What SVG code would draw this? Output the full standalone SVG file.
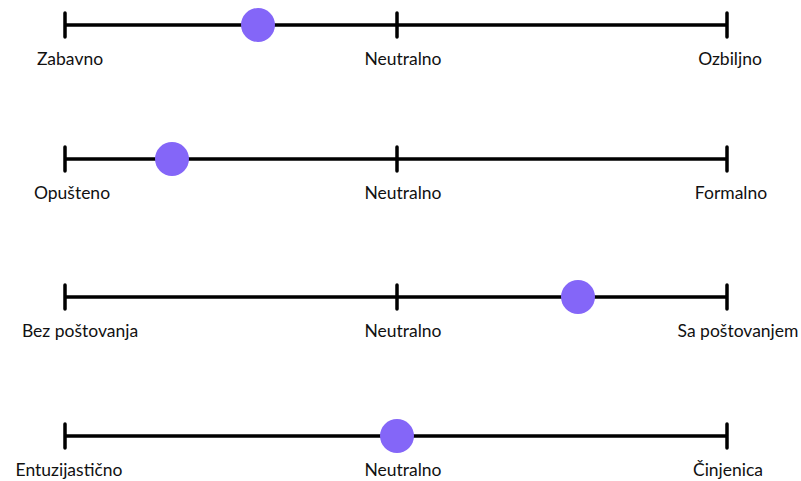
<svg xmlns="http://www.w3.org/2000/svg" width="801" height="481" viewBox="0 0 801 481">
<style>
.ln{stroke:#000;stroke-width:3.5;stroke-linecap:round;fill:none}
.dot{fill:#8466f8}
text{font-family:Lato,"Liberation Sans",sans-serif;font-size:17.5px;fill:#111;text-anchor:middle}
</style>
<rect width="801" height="481" fill="#fff"/>
<g id="scale1">
<path class="ln" d="M65 25H727M65 13V37M397 13V37M727 13V37"/>
<circle class="dot" cx="258" cy="25" r="17"/>
<text x="70" y="65">Zabavno</text>
<text x="403" y="65">Neutralno</text>
<text x="730" y="65">Ozbiljno</text>
</g>
<g id="scale2">
<path class="ln" d="M65 159H727M65 147V171M397 147V171M727 147V171"/>
<circle class="dot" cx="172" cy="159" r="17"/>
<text x="72" y="199">Opušteno</text>
<text x="403" y="199">Neutralno</text>
<text x="731" y="199">Formalno</text>
</g>
<g id="scale3">
<path class="ln" d="M65 297H727M65 285V309M397 285V309M727 285V309"/>
<circle class="dot" cx="578" cy="297" r="17"/>
<text x="80" y="337">Bez poštovanja</text>
<text x="403" y="337">Neutralno</text>
<text x="738" y="337">Sa poštovanjem</text>
</g>
<g id="scale4">
<path class="ln" d="M65 436H727M65 424V448M397 424V448M727 424V448"/>
<circle class="dot" cx="397" cy="436" r="17"/>
<text x="69" y="476">Entuzijastično</text>
<text x="403" y="476">Neutralno</text>
<text x="728" y="476">Činjenica</text>
</g>
</svg>
